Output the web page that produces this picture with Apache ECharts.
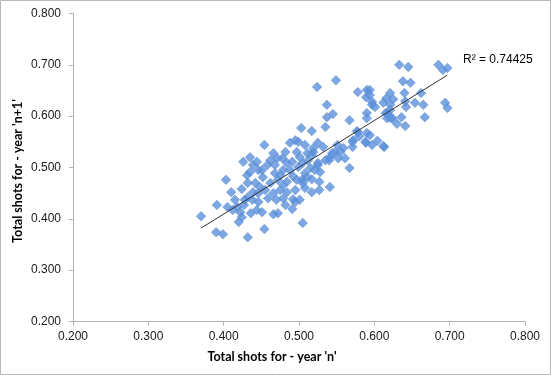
<!DOCTYPE html>
<html>
<head>
<meta charset="utf-8">
<script src="https://cdn.jsdelivr.net/npm/echarts@6/dist/echarts.min.js"></script>
<style>
html,body{margin:0;padding:0;background:#fff;}
#chart{width:551px;height:375px;}
</style>
</head>
<body>
<div id="chart"></div>
<script>
// Total shots for - year 'n' (x) and year 'n+1' (y)
var xVals = [0.370,0.390,0.399,0.432,0.454,0.391,0.403,0.410,0.405,0.412,0.418,0.422,0.424,0.420,0.427,0.436,0.444,0.451,0.446,0.466,
0.426,0.435,0.431,0.424,0.432,0.439,0.444,0.451,0.458,0.462,0.452,0.442,0.448,0.439,0.446,0.455,0.462,0.466,0.468,0.459,
0.432,0.428,0.438,0.472,0.491,0.454,0.497,0.511,0.519,0.484,0.491,0.479,0.475,0.499,0.505,0.512,0.517,0.525,0.528,0.567,
0.508,0.497,0.504,0.511,0.517,0.527,0.541,0.527,0.517,0.508,0.505,0.484,0.475,0.484,0.479,0.492,0.495,0.501,0.505,
0.537,0.537,0.545,0.535,0.503,0.517,0.567,0.590,0.590,0.597,0.601,0.612,0.617,0.624,0.630,0.577,0.580,0.590,0.572,0.571,
0.589,0.597,0.604,0.613,0.559,0.551,0.548,0.541,0.532,0.525,0.519,0.499,0.495,0.488,0.501,0.478,0.555,0.544,0.552,0.540,0.525,
0.549,0.524,0.578,0.590,0.589,0.578,0.588,0.571,
0.633,0.645,0.685,0.691,0.697,0.638,0.648,0.640,0.662,0.621,0.616,0.625,0.594,0.594,0.597,0.621,0.641,0.654,0.665,0.642,
0.694,0.697,0.621,0.615,0.617,0.622,0.636,0.667,0.641,0.594,0.612,
0.482,0.471,0.468,0.488,0.492,0.472,0.470,0.482,0.515,0.535,0.521,0.508,0.561,0.435,0.446,0.415,0.466,0.495,0.479];
var yVals = [0.405,0.374,0.370,0.364,0.380,0.427,0.476,0.452,0.423,0.417,0.423,0.413,0.403,0.394,0.427,0.411,0.417,0.413,0.433,0.409,
0.511,0.520,0.485,0.458,0.470,0.505,0.511,0.495,0.505,0.514,0.481,0.470,0.462,0.452,0.450,0.456,0.470,0.450,0.489,0.440,
0.442,0.437,0.437,0.411,0.419,0.544,0.530,0.528,0.530,0.509,0.511,0.495,0.485,0.501,0.509,0.514,0.524,0.505,0.491,0.499,
0.489,0.476,0.476,0.481,0.477,0.472,0.462,0.456,0.452,0.460,0.470,0.472,0.456,0.452,0.440,0.438,0.433,0.437,0.392,
0.622,0.598,0.604,0.579,0.577,0.571,0.592,0.606,0.596,0.622,0.618,0.626,0.606,0.596,0.585,0.571,0.561,0.567,0.553,0.540,
0.548,0.544,0.552,0.540,0.538,0.544,0.530,0.520,0.540,0.548,0.538,0.550,0.553,0.548,0.520,0.518,0.530,0.528,0.518,0.514,0.509,
0.670,0.657,0.647,0.651,0.637,0.569,0.550,0.550,
0.700,0.696,0.700,0.690,0.694,0.668,0.665,0.645,0.645,0.645,0.635,0.633,0.651,0.641,0.628,0.622,0.629,0.626,0.622,0.618,
0.626,0.616,0.612,0.606,0.596,0.596,0.598,0.598,0.581,0.563,0.542,
0.530,0.518,0.505,0.495,0.483,0.476,0.437,0.427,0.499,0.514,0.495,0.544,0.518,0.491,0.495,0.437,0.528,0.456,0.466];
// Linear trendline endpoints
var trendX = [0.370, 0.697];
var trendY = [0.382, 0.680];
var axisTicks = [0.2, 0.3, 0.4, 0.5, 0.6, 0.7, 0.8];
var r2Label = 'R\u00B2 = 0.74425';
var xTitle = "Total shots for - year 'n'";
var yTitle = "Total shots for - year 'n+1'";

var points = xVals.map(function (x, i) { return [x, yVals[i]]; });
var trend = trendX.map(function (x, i) { return [x, trendY[i]]; });

var chart = echarts.init(document.getElementById('chart'), null, {renderer: 'canvas'});
function axisCommon() {
  return {
    type: 'value',
    min: axisTicks[0],
    max: axisTicks[axisTicks.length - 1],
    interval: 0.1,
    splitLine: {show: false},
    axisLine: {show: true, onZero: false, lineStyle: {color: '#b3b3b3', width: 1}},
    axisTick: {show: true, inside: false, length: 4, lineStyle: {color: '#b3b3b3'}},
    axisLabel: {
      color: '#1a1a1a', fontFamily: 'Liberation Sans', fontSize: 12,
      formatter: function (v) { return v.toFixed(3); }
    }
  };
}
var xa = axisCommon(); xa.axisLabel.margin = 9;
var ya = axisCommon(); ya.axisLabel.margin = 12;

chart.setOption({
  animation: false,
  grid: {left: 73, right: 26, top: 13.5, bottom: 53.5, containLabel: false},
  xAxis: xa,
  yAxis: ya,
  graphic: [
    {type: 'rect', shape: {x: 0.5, y: 0.5, width: 550, height: 374}, style: {fill: 'none', stroke: '#b8b8b8', lineWidth: 1}, silent: true, z: 100},
    {type: 'text', x: 272, y: 357, style: {text: xTitle, fontFamily: 'Lato', fontWeight: 'bold', fontSize: 12.5, fill: '#000', textAlign: 'center', textVerticalAlign: 'middle'}},
    {type: 'text', x: 18, y: 171, rotation: Math.PI / 2, style: {text: yTitle, fontFamily: 'Lato', fontWeight: 'bold', fontSize: 12.5, fill: '#000', textAlign: 'center', textVerticalAlign: 'middle'}},
    {type: 'text', x: 463, y: 60, style: {text: r2Label, fontFamily: 'Liberation Sans', fontSize: 12, fill: '#000', textAlign: 'left', textVerticalAlign: 'middle'}}
  ],
  series: [
    {
      type: 'scatter',
      data: points,
      symbol: 'diamond',
      symbolSize: 9.5,
      itemStyle: {
        color: '#5c91dc',
        borderColor: '#4f84cf',
        borderWidth: 0.6
      },
      z: 2
    },
    {
      type: 'line',
      data: trend,
      symbol: 'none',
      lineStyle: {color: '#333', width: 1},
      z: 3
    }
  ]
});
</script>
</body>
</html>
